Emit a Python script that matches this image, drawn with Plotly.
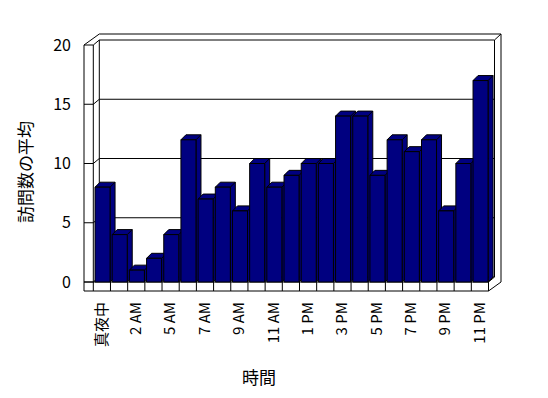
import plotly.graph_objects as go

# ---------------- data ----------------
categories = ["真夜中", "1 AM", "2 AM", "3 AM", "5 AM", "6 AM", "7 AM", "8 AM", "9 AM",
              "10 AM", "11 AM", "正午", "1 PM", "2 PM", "3 PM", "4 PM", "5 PM", "6 PM",
              "7 PM", "8 PM", "9 PM", "10 PM", "11 PM"]
values = [8, 4, 1, 2, 4, 12, 7, 8, 6, 10, 8, 9, 10, 10, 14, 14, 9, 12, 11, 12, 6, 10, 17]
y_ticks = [0, 5, 10, 15, 20]
x_title = "時間"
y_title = "訪問数の平均"

# ---------------- geometry (window-pixel helpers for the 3-D frame) ----------------
PAGE_OFF = 8            # default body margin of the page
n = len(categories)
PX_LEFT = 93.3
CELL = (488.5 - PX_LEFT) / n
PX_ZERO = 282.0
PX_UNIT = (282.0 - 45.0) / 20.0

PLOT_L, PLOT_R, PLOT_T, PLOT_B = 78, 506, 28, 296   # plot area in window pixels


def X(px):
    return (px - PX_LEFT) / CELL - 0.5


def Y(py):
    return (PX_ZERO - py) / PX_UNIT


def PX(px):
    return (px - PLOT_L) / (PLOT_R - PLOT_L)


def PY(py):
    return (PLOT_B - py) / (PLOT_B - PLOT_T)


DX = 5 / CELL          # bar depth offset
DY = 5 / PX_UNIT
WDX = 6 / CELL         # wall depth offset
WDY = 5 / PX_UNIT

NAVY = "#000080"
BLACK = "black"
vmax = y_ticks[-1]

xl_out = X(84)
xl_in = -0.5
xb_l = xl_in + WDX
xr_front = n - 0.5
xb_r = xr_front + WDX
xr_out = X(501)
y_floor_bot = Y(291)
y_top_out = Y(34)

shapes = []
line = dict(color=BLACK, width=1)

# back wall inner face
shapes.append(dict(type="rect", xref="x", yref="y", x0=xb_l, x1=xb_r, y0=WDY, y1=vmax + WDY,
                   line=line, fillcolor="white", layer="below"))
# gridlines on back wall
for t in y_ticks[1:-1]:
    shapes.append(dict(type="line", xref="x", yref="y", x0=xb_l, x1=xb_r, y0=t + WDY, y1=t + WDY,
                       line=line, layer="below"))
# left wall ticks and connectors
for t in y_ticks:
    shapes.append(dict(type="path", xref="x", yref="y",
                       path=f"M {xl_out},{t} L {xl_in},{t} L {xb_l},{t + WDY}",
                       line=line, layer="below"))
# left wall inner vertical
shapes.append(dict(type="line", xref="x", yref="y", x0=xl_in, x1=xl_in, y0=0, y1=vmax,
                   line=line, layer="below"))
# outer silhouette
shapes.append(dict(type="path", xref="x", yref="y",
                   path=(f"M {xl_out},{y_floor_bot} L {xl_out},{vmax} L {xb_l},{y_top_out} "
                         f"L {xr_out},{y_top_out} L {xr_out},0 L {xr_front},{y_floor_bot} Z"),
                   line=line, layer="below"))
# top-right and bottom-right diagonals
shapes.append(dict(type="line", xref="x", yref="y", x0=xb_r, x1=xr_out, y0=vmax + WDY, y1=y_top_out,
                   line=line, layer="below"))
shapes.append(dict(type="line", xref="x", yref="y", x0=xr_front, x1=xb_r, y0=0, y1=WDY,
                   line=line, layer="below"))
# floor front face: top edge and cell dividers
shapes.append(dict(type="line", xref="x", yref="y", x0=xl_out, x1=xr_front, y0=0, y1=0,
                   line=line, layer="below"))
for k in range(n + 1):
    xx = k - 0.5
    shapes.append(dict(type="line", xref="x", yref="y", x0=xx, x1=xx, y0=y_floor_bot, y1=0,
                       line=line, layer="below"))

# bar top and side faces (depth), derived from the values
BAR_OFF = -0.4
BAR_W = 0.875
for i, v in enumerate(values):
    l = i + BAR_OFF
    r = l + BAR_W
    p = (f"M {l},{v} L {l + DX},{v + DY} L {r + DX},{v + DY} L {r + DX},{DY} L {r},0 L {r},{v} Z "
         f"M {r},{v} L {r + DX},{v + DY}")
    shapes.append(dict(type="path", xref="x", yref="y", path=p, line=line,
                       fillcolor=NAVY, layer="below"))

fig = go.Figure()
fig.add_trace(go.Bar(
    x=list(range(n)), y=values, width=BAR_W, offset=BAR_OFF,
    marker=dict(color=NAVY, line=dict(color=BLACK, width=1)),
    hovertext=categories, hoverinfo="text+y",
))

FONT = "Noto Sans CJK JP"
fig.update_layout(
    width=548, height=398,
    margin=dict(l=PLOT_L - PAGE_OFF, r=548 - (PLOT_R - PAGE_OFF),
                t=PLOT_T - PAGE_OFF, b=398 - (PLOT_B - PAGE_OFF), autoexpand=False),
    paper_bgcolor="white", plot_bgcolor="white",
    showlegend=False,
    font=dict(family=FONT, color="black"),
    shapes=shapes,
    xaxis=dict(range=[X(PLOT_L), X(PLOT_R)], tickmode="array",
               tickvals=list(range(0, n, 2)), ticktext=categories[::2],
               tickangle=-90, showgrid=False, zeroline=False, showline=False,
               ticks="", ticklabelstandoff=2, tickfont=dict(size=15, family=FONT)),
    yaxis=dict(range=[Y(PLOT_B), Y(PLOT_T)], tickmode="array", tickvals=y_ticks,
               showgrid=False, zeroline=False, showline=False, ticks="",
               ticklabelstandoff=6,
               tickfont=dict(size=16, family=FONT)),
    annotations=[
        dict(text=y_title, xref="paper", yref="paper", x=PX(24), y=PY(172), textangle=-90,
             showarrow=False, xanchor="center", yanchor="middle", font=dict(size=17, family=FONT)),
        dict(text=x_title, xref="paper", yref="paper", x=PX(259), y=PY(376),
             showarrow=False, xanchor="center", yanchor="middle", font=dict(size=17, family=FONT)),
    ],
)

fig.write_html("out.html")
